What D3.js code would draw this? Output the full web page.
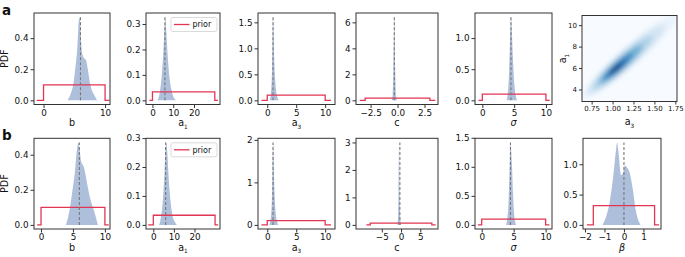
<!DOCTYPE html>
<html>
<head>
<meta charset="utf-8">
<script src="https://cdn.jsdelivr.net/npm/d3@7"></script>
<style>
  body { margin: 0; background: #fff; }
  text { font-family: "DejaVu Sans", sans-serif; fill: #111; }
</style>
</head>
<body>
<script>
// ---------- values ----------
// true parameter values (dashed lines)
var truth_b = 6, truth_a1 = 6, truth_a3 = 1, truth_c = -0.3, truth_sigma = 4.5, truth_beta = 0;

// row a posteriors
var bA_x = [3.9, 4.4, 4.9, 5.2, 5.5, 5.7, 5.8, 5.95, 6.1, 6.3, 6.6, 6.9, 7.2, 7.5, 7.9, 8.3, 8.7];
var bA_pdf = [0, 0.04, 0.12, 0.22, 0.35, 0.5, 0.535, 0.5, 0.38, 0.3, 0.27, 0.26, 0.2, 0.12, 0.06, 0.03, 0];
var a1A_x = [2.5, 3.5, 4.5, 5.3, 5.9, 6.2, 6.6, 7.3, 8.2, 9.2, 10.3, 11.5];
var a1A_pdf = [0, 0.03, 0.1, 0.2, 0.3, 0.327, 0.28, 0.18, 0.09, 0.04, 0.01, 0];
var a3A_x = [0.4, 0.6, 0.8, 0.9, 1.0, 1.1, 1.2, 1.4, 1.7, 2.0];
var a3A_pdf = [0, 0.1, 0.5, 1.1, 1.6, 1.3, 0.8, 0.35, 0.08, 0];
var cA_x = [-0.55, -0.45, -0.38, -0.3, -0.22, -0.15, -0.05];
var cA_pdf = [0, 0.4, 2.5, 6.4, 2.5, 0.4, 0];
var sA_x = [3.8, 4.0, 4.2, 4.35, 4.5, 4.65, 4.8, 5.0, 5.2, 5.5];
var sA_pdf = [0, 0.1, 0.45, 0.95, 1.336, 1.1, 0.7, 0.3, 0.1, 0];

// row b posteriors
var bB_x = [3.9, 4.4, 4.9, 5.3, 5.6, 5.85, 6.0, 6.3, 6.7, 7.0, 7.3, 7.7, 8.3, 8.9];
var bB_pdf = [0, 0.07, 0.19, 0.3, 0.42, 0.47, 0.44, 0.36, 0.33, 0.28, 0.22, 0.15, 0.08, 0];
var a1B_x = [2.8, 3.8, 4.8, 5.5, 6.0, 6.3, 6.8, 7.5, 8.4, 9.4, 10.5, 11.5];
var a1B_pdf = [0, 0.03, 0.1, 0.19, 0.27, 0.285, 0.25, 0.16, 0.08, 0.03, 0.01, 0];
var a3B_x = [0.35, 0.6, 0.8, 0.9, 1.0, 1.1, 1.25, 1.45, 1.7, 1.9];
var a3B_pdf = [0, 0.15, 0.6, 1.3, 1.94, 1.5, 0.8, 0.3, 0.08, 0];
var cB_x = [-1.0, -0.8, -0.65, -0.5, -0.35, -0.2, 0];
var cB_pdf = [0, 0.2, 1.2, 3.0, 1.2, 0.2, 0];
var sB_x = [3.8, 4.0, 4.2, 4.35, 4.5, 4.6, 4.75, 4.9, 5.1, 5.4];
var sB_pdf = [0, 0.1, 0.4, 0.9, 1.42, 1.3, 1.0, 0.55, 0.15, 0];
var betaB_x = [-1.1, -0.9, -0.72, -0.55, -0.42, -0.35, -0.28, -0.15, -0.05, 0.05, 0.15, 0.3, 0.45, 0.6, 0.85];
var betaB_pdf = [0, 0.15, 0.4, 0.8, 1.2, 1.36, 1.2, 0.82, 0.85, 0.98, 0.95, 0.85, 0.6, 0.25, 0];

// uniform priors, as step vertices
var priorBA_x = [-1.1, 0, 10, 10.7], priorBA_y = [0, 0.1, 0, 0];
var priorA1A_x = [-1.5, 0, 30, 31.5], priorA1A_y = [0, 0.0333, 0, 0];
var priorA3A_x = [-1, 0, 10, 11], priorA3A_y = [0, 0.1, 0, 0];
var priorCA_x = [-3.5, -3, 3, 3.5], priorCA_y = [0, 0.1667, 0, 0];
var priorSA_x = [-0.6, 0, 10, 10.6], priorSA_y = [0, 0.1, 0, 0];
var priorBB_x = [-0.6, 0, 10, 10.6], priorBB_y = [0, 0.1, 0, 0];
var priorA1B_x = [-2.5, 0, 30, 31.5], priorA1B_y = [0, 0.0333, 0, 0];
var priorA3B_x = [-1, 0, 10, 11], priorA3B_y = [0, 0.1, 0, 0];
var priorCB_x = [-9, -8, 8, 9], priorCB_y = [0, 0.0625, 0, 0];
var priorSB_x = [-0.6, 0, 10, 10.6], priorSB_y = [0, 0.1, 0, 0];
var priorBetaB_x = [-1.9, -1.571, 1.571, 1.8], priorBetaB_y = [0, 0.318, 0, 0];

// axis limits
var xlim_bA = [-1.55, 10.8], xlim_a1A = [-3.1, 32.5], xlim_a3A = [-1.6, 11.7], xlim_cA = [-3.85, 3.75], xlim_sA = [-1.15, 10.95];
var xlim_bB = [-1.1, 10.8], xlim_a1B = [-3.55, 32.4], xlim_a3B = [-1.6, 11.7], xlim_cB = [-11.7, 9.6], xlim_sB = [-1.05, 11.0], xlim_betaB = [-2.1, 1.9];

// ticks
var xt_b2 = [0, 10], xt_b2L = ["0", "10"];
var xt_b3 = [0, 5, 10], xt_b3L = ["0", "5", "10"];
var xt_a1 = [0, 10, 20], xt_a1L = ["0", "10", "20"];
var xt_cA = [-2.5, 0, 2.5], xt_cAL = ["\u22122.5", "0.0", "2.5"];
var xt_cB = [-5, 0, 5], xt_cBL = ["\u22125", "0", "5"];
var xt_beta = [-2, -1, 0, 1], xt_betaL = ["\u22122", "\u22121", "0", "1"];
var yt_b = [0, 0.2, 0.4], yt_bL = ["0.0", "0.2", "0.4"];
var yt_a1 = [0, 0.1, 0.2, 0.3], yt_a1L = ["0.0", "0.1", "0.2", "0.3"];
var yt_a3A = [0, 0.5, 1, 1.5], yt_a3AL = ["0.0", "0.5", "1.0", "1.5"];
var yt_a3B = [0, 1, 2], yt_a3BL = ["0", "1", "2"];
var yt_cA = [0, 2, 4, 6], yt_cAL = ["0", "2", "4", "6"];
var yt_cB = [0, 1, 2, 3], yt_cBL = ["0", "1", "2", "3"];
var yt_sA = [0, 0.5, 1], yt_sAL = ["0.0", "0.5", "1.0"];
var yt_sB = [0, 0.5, 1, 1.5], yt_sBL = ["0.0", "0.5", "1.0", "1.5"];
var yt_beta = [0, 0.5, 1], yt_betaL = ["0.0", "0.5", "1.0"];

// joint density a3 vs a1 (row a, last panel): nested levels along the ridge
// [a3 start, a1 start, a3 end, a1 end, a1 half-thickness, level]
var kde_levels = [
  [0.64, 3.20, 1.78, 11.07, 1.25, 0.07],
  [0.70, 3.61, 1.62, 9.97, 1.05, 0.18],
  [0.77, 4.10, 1.47, 8.93, 0.85, 0.33],
  [0.84, 4.58, 1.35, 8.10, 0.68, 0.5],
  [0.89, 4.93, 1.24, 7.34, 0.52, 0.66],
  [0.94, 5.27, 1.16, 6.79, 0.38, 0.8],
  [0.98, 5.55, 1.10, 6.38, 0.24, 0.93],
  [1.00, 5.69, 1.07, 6.17, 0.14, 1.0]
];
var heat_xlim = [0.635, 1.77], heat_ylim = [2.88, 10.9];
var heat_xt = [0.75, 1.0, 1.25, 1.5, 1.75], heat_xtL = ["0.75", "1.00", "1.25", "1.50", "1.75"];
var heat_yt = [4, 6, 8, 10], heat_ytL = ["4", "6", "8", "10"];

// ---------- layout ----------
var W = 685, H = 257;
var colX = [[34, 110], [146, 220], [258, 335], [356, 438], [475, 552], [583, 661]];
var rowY = [[13, 104.5], [138.3, 229]];
var FS = 8.8, LFS = 9.6;
var postColor = "rgba(76,114,176,0.45)";
var priorColor = "#e23553";
var spineColor = "#333";

var svg = d3.select("body").append("svg")
    .attr("width", W)
    .attr("height", H);

var defs = svg.append("defs");
var clipId = 0;

function addLabel(g, x, y, main, sub, italic, rotate) {
    var t = g.append("text")
        .attr("text-anchor", "middle")
        .attr("font-size", LFS)
        .attr("transform", "translate(" + x + "," + y + ")" + (rotate ? " rotate(-90)" : ""));
    t.append("tspan").text(main).attr("font-style", italic ? "italic" : null);
    if (sub) {
        t.append("tspan").text(sub).attr("font-size", LFS * 0.6).attr("dy", 2.5);
    }
    return t;
}

function styleAxis(ax) {
    ax.select(".domain").remove();
    ax.selectAll(".tick line").attr("stroke", spineColor).attr("stroke-width", 1);
    ax.selectAll(".tick text").attr("font-size", FS).attr("fill", "#111")
        .attr("font-family", "DejaVu Sans, sans-serif");
}

function drawPanel(p) {
    var bx = colX[p.col], by = rowY[p.row];
    var g = svg.append("g");
    var x = d3.scaleLinear().domain(p.xlim).range(bx);
    var M = d3.max(p.postY.concat(p.priorY));
    var y = d3.scaleLinear().domain([-0.05 * M, 1.05 * M]).range([by[1], by[0]]);

    var id = "clip" + (clipId++);
    defs.append("clipPath").attr("id", id).append("rect")
        .attr("x", bx[0]).attr("y", by[0]).attr("width", bx[1] - bx[0]).attr("height", by[1] - by[0]);
    var plot = g.append("g").attr("clip-path", "url(#" + id + ")");

    var area = d3.area()
        .x(function (d) { return x(d[0]); })
        .y0(y(0))
        .y1(function (d) { return y(d[1]); })
        .curve(d3.curveMonotoneX);
    plot.append("path")
        .datum(d3.zip(p.postX, p.postY))
        .attr("d", area)
        .attr("fill", postColor);

    var line = d3.line()
        .x(function (d) { return x(d[0]); })
        .y(function (d) { return y(d[1]); })
        .curve(d3.curveStepAfter);
    plot.append("path")
        .datum(d3.zip(p.priorX, p.priorY))
        .attr("d", line)
        .attr("fill", "none")
        .attr("stroke", priorColor)
        .attr("stroke-width", 1.3);

    plot.append("line")
        .attr("x1", x(p.truth)).attr("x2", x(p.truth))
        .attr("y1", y(0)).attr("y2", y(M))
        .attr("stroke", "#777")
        .attr("stroke-width", 1.1)
        .attr("stroke-dasharray", "3,2");

    var axB = g.append("g").attr("transform", "translate(0," + by[1] + ")")
        .call(d3.axisBottom(x).tickValues(p.xt).tickFormat(function (d, i) { return p.xtL[i]; })
            .tickSize(3.5).tickPadding(1.5));
    styleAxis(axB);
    var axL = g.append("g").attr("transform", "translate(" + bx[0] + ",0)")
        .call(d3.axisLeft(y).tickValues(p.yt).tickFormat(function (d, i) { return p.ytL[i]; })
            .tickSize(3.5).tickPadding(2));
    styleAxis(axL);

    g.append("rect")
        .attr("x", bx[0]).attr("y", by[0])
        .attr("width", bx[1] - bx[0]).attr("height", by[1] - by[0])
        .attr("fill", "none").attr("stroke", spineColor).attr("stroke-width", 1);

    addLabel(g, (bx[0] + bx[1]) / 2, by[1] + 21.5, p.label, p.sub, p.italic, false);

    if (p.col === 0) {
        addLabel(g, 8, (by[0] + by[1]) / 2, "PDF", null, false, true);
    }

    if (p.legend) {
        var lg = g.append("g").attr("transform", "translate(" + (bx[1] - 49) + "," + (by[0] + 4.5) + ")");
        lg.append("rect").attr("width", 46).attr("height", 14).attr("rx", 2)
            .attr("fill", "#fff").attr("fill-opacity", 0.85)
            .attr("stroke", "#d0d0d0").attr("stroke-width", 0.8);
        lg.append("line").attr("x1", 3).attr("x2", 18.5).attr("y1", 7).attr("y2", 7)
            .attr("stroke", priorColor).attr("stroke-width", 1.3);
        lg.append("text").attr("x", 21.5).attr("y", 9.9).attr("font-size", 8).text("prior");
    }
}

var panels = [
    {row: 0, col: 0, xlim: xlim_bA, postX: bA_x, postY: bA_pdf, priorX: priorBA_x, priorY: priorBA_y, truth: truth_b,
        xt: xt_b2, xtL: xt_b2L, yt: yt_b, ytL: yt_bL, label: "b"},
    {row: 0, col: 1, xlim: xlim_a1A, postX: a1A_x, postY: a1A_pdf, priorX: priorA1A_x, priorY: priorA1A_y, truth: truth_a1,
        xt: xt_a1, xtL: xt_a1L, yt: yt_a1, ytL: yt_a1L, label: "a", sub: "1", legend: true},
    {row: 0, col: 2, xlim: xlim_a3A, postX: a3A_x, postY: a3A_pdf, priorX: priorA3A_x, priorY: priorA3A_y, truth: truth_a3,
        xt: xt_b3, xtL: xt_b3L, yt: yt_a3A, ytL: yt_a3AL, label: "a", sub: "3"},
    {row: 0, col: 3, xlim: xlim_cA, postX: cA_x, postY: cA_pdf, priorX: priorCA_x, priorY: priorCA_y, truth: truth_c,
        xt: xt_cA, xtL: xt_cAL, yt: yt_cA, ytL: yt_cAL, label: "c"},
    {row: 0, col: 4, xlim: xlim_sA, postX: sA_x, postY: sA_pdf, priorX: priorSA_x, priorY: priorSA_y, truth: truth_sigma,
        xt: xt_b3, xtL: xt_b3L, yt: yt_sA, ytL: yt_sAL, label: "\u03c3", italic: true},
    {row: 1, col: 0, xlim: xlim_bB, postX: bB_x, postY: bB_pdf, priorX: priorBB_x, priorY: priorBB_y, truth: truth_b,
        xt: xt_b3, xtL: xt_b3L, yt: yt_b, ytL: yt_bL, label: "b"},
    {row: 1, col: 1, xlim: xlim_a1B, postX: a1B_x, postY: a1B_pdf, priorX: priorA1B_x, priorY: priorA1B_y, truth: truth_a1,
        xt: xt_a1, xtL: xt_a1L, yt: yt_a1, ytL: yt_a1L, label: "a", sub: "1", legend: true},
    {row: 1, col: 2, xlim: xlim_a3B, postX: a3B_x, postY: a3B_pdf, priorX: priorA3B_x, priorY: priorA3B_y, truth: truth_a3,
        xt: xt_b3, xtL: xt_b3L, yt: yt_a3B, ytL: yt_a3BL, label: "a", sub: "3"},
    {row: 1, col: 3, xlim: xlim_cB, postX: cB_x, postY: cB_pdf, priorX: priorCB_x, priorY: priorCB_y, truth: truth_c,
        xt: xt_cB, xtL: xt_cBL, yt: yt_cB, ytL: yt_cBL, label: "c"},
    {row: 1, col: 4, xlim: xlim_sB, postX: sB_x, postY: sB_pdf, priorX: priorSB_x, priorY: priorSB_y, truth: truth_sigma,
        xt: xt_b3, xtL: xt_b3L, yt: yt_sB, ytL: yt_sBL, label: "\u03c3", italic: true},
    {row: 1, col: 5, xlim: xlim_betaB, postX: betaB_x, postY: betaB_pdf, priorX: priorBetaB_x, priorY: priorBetaB_y, truth: truth_beta,
        xt: xt_beta, xtL: xt_betaL, yt: yt_beta, ytL: yt_betaL, label: "\u03b2", italic: true}
];
panels.forEach(drawPanel);

// ---------- joint density panel ----------
(function () {
    var bx = [582, 677], by = [15.5, 101.5];
    var g = svg.append("g");
    var x = d3.scaleLinear().domain(heat_xlim).range(bx);
    var y = d3.scaleLinear().domain(heat_ylim).range([by[1], by[0]]);

    defs.append("clipPath").attr("id", "clipHeat").append("rect")
        .attr("x", bx[0]).attr("y", by[0]).attr("width", bx[1] - bx[0]).attr("height", by[1] - by[0]);
    defs.append("filter").attr("id", "blur").attr("x", "-50%").attr("y", "-50%").attr("width", "200%").attr("height", "200%")
        .append("feGaussianBlur").attr("stdDeviation", 2.4);

    var plot = g.append("g").attr("clip-path", "url(#clipHeat)");
    plot.append("rect")
        .attr("x", bx[0]).attr("y", by[0]).attr("width", bx[1] - bx[0]).attr("height", by[1] - by[0])
        .attr("fill", d3.interpolateBlues(0));
    var blobs = plot.append("g").attr("filter", "url(#blur)");
    kde_levels.forEach(function (k) {
        var x0 = x(k[0]), y0 = y(k[1]), x1 = x(k[2]), y1 = y(k[3]);
        var ang = Math.atan2(y1 - y0, x1 - x0);
        var rx = Math.hypot(x1 - x0, y1 - y0) / 2;
        var ry = Math.abs(y(0) - y(k[4])) * Math.cos(ang);
        blobs.append("ellipse")
            .attr("cx", 0).attr("cy", 0).attr("rx", rx).attr("ry", ry)
            .attr("transform", "translate(" + ((x0 + x1) / 2) + "," + ((y0 + y1) / 2) + ") rotate(" + (ang * 180 / Math.PI) + ")")
            .attr("fill", d3.interpolateBlues(k[5]));
    });

    var axB = g.append("g").attr("transform", "translate(0," + by[1] + ")")
        .call(d3.axisBottom(x).tickValues(heat_xt).tickFormat(function (d, i) { return heat_xtL[i]; })
            .tickSize(3).tickPadding(2));
    styleAxis(axB);
    axB.selectAll(".tick text").attr("font-size", 7);
    var axL = g.append("g").attr("transform", "translate(" + bx[0] + ",0)")
        .call(d3.axisLeft(y).tickValues(heat_yt).tickFormat(function (d, i) { return heat_ytL[i]; })
            .tickSize(3).tickPadding(2));
    styleAxis(axL);
    axL.selectAll(".tick text").attr("font-size", 7);

    g.append("rect")
        .attr("x", bx[0]).attr("y", by[0])
        .attr("width", bx[1] - bx[0]).attr("height", by[1] - by[0])
        .attr("fill", "none").attr("stroke", spineColor).attr("stroke-width", 1);

    addLabel(g, (bx[0] + bx[1]) / 2, 125, "a", "3", false, false);
    addLabel(g, 566, (by[0] + by[1]) / 2, "a", "1", false, true);
})();

// panel letters
svg.append("text").attr("x", 2).attr("y", 15).attr("font-size", 13.5).attr("font-weight", "bold").text("a");
svg.append("text").attr("x", 2).attr("y", 139.5).attr("font-size", 13.5).attr("font-weight", "bold").text("b");
</script>
</body>
</html>
